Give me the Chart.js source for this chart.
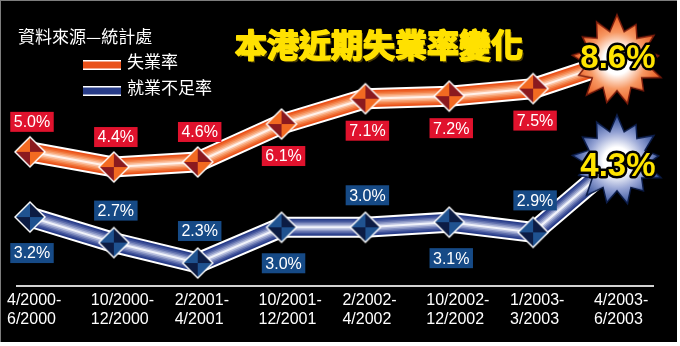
<!DOCTYPE html>
<html>
<head>
<meta charset="utf-8">
<script src="https://cdn.jsdelivr.net/npm/chart.js@4.4.1/dist/chart.umd.min.js"></script>
<style>
  html, body { margin: 0; padding: 0; background: #fff; }
  canvas { display: block; }
</style>
</head>
<body>
<canvas id="jobless" width="680" height="346"></canvas>
<script>
// survey periods
const periods = ['4/2000-6/2000', '10/2000-12/2000', '2/2001-4/2001', '10/2001-12/2001',
                 '2/2002-4/2002', '10/2002-12/2002', '1/2003-3/2003', '4/2003-6/2003'];
// 失業率 (%)
const unemployment = [5.0, 4.4, 4.6, 6.1, 7.1, 7.2, 7.5, 8.6];
// 就業不足率 (%)
const underemployment = [3.2, 2.7, 2.3, 3.0, 3.0, 3.1, 2.9, 4.3];

// which side of the marker each value box goes
const unemploymentSide = ['up', 'up', 'up', 'down', 'down', 'down', 'down'];
const underemploymentSide = ['down', 'up', 'up', 'down', 'up', 'down', 'up'];

const CJK = '"Noto Sans CJK TC", "Noto Sans CJK SC", sans-serif';
const LATIN = '"Liberation Sans", Arial, sans-serif';

// tube look: stacked strokes, outer to inner
const TUBE_WIDTHS = [21, 17, 14, 11, 8, 5, 2];
const orangeStyle = {
  tube: ['#ffffff', '#e9511a', '#ee672c', '#f3834c', '#f7a272', '#fbc4a6', '#fff1e9'],
  light: '#f26a21', dark: '#8b1a1f',
  starEdge: '#ea5a1e', starMid: '#f79863', starLine: '#7a1c0c',
  box: '#e0122d', up: -30, down: 32, bigDy: -2
};
const blueStyle = {
  tube: ['#ffffff', '#283c88', '#3d5099', '#606fac', '#8995c4', '#b8bfde', '#f0f2fa'],
  light: '#1f5290', dark: '#0c1c44',
  starEdge: '#2c4a96', starMid: '#95a3d4', starLine: '#0c1d4a',
  box: '#164a86', up: -32, down: 36, bigDy: 6
};

// faceted diamond marker
function makeDiamond(light, dark) {
  const c = document.createElement('canvas');
  c.width = c.height = 34;
  const g = c.getContext('2d');
  const m = 17, r = 16, ri = 14;
  g.fillStyle = '#ffffff';
  g.beginPath();
  g.moveTo(m, m - r); g.lineTo(m + r, m); g.lineTo(m, m + r); g.lineTo(m - r, m);
  g.closePath(); g.fill();
  const tri = (col, ax, ay, bx, by) => {
    g.fillStyle = col;
    g.beginPath(); g.moveTo(m, m); g.lineTo(ax, ay); g.lineTo(bx, by); g.closePath(); g.fill();
  };
  tri(light, m - ri, m, m, m - ri);
  tri(dark, m, m - ri, m + ri, m);
  tri(dark, m - ri, m, m, m + ri);
  tri(light, m + ri, m, m, m + ri);
  return c;
}

// starburst for the latest reading
function makeStar(edge, mid, line) {
  const c = document.createElement('canvas');
  c.width = c.height = 100;
  const g = c.getContext('2d');
  const m = 50;
  const outer = [46, 41, 45, 42, 47, 40, 44, 43, 46, 41, 45, 42, 44];
  const inner = 30;
  const n = outer.length;
  g.beginPath();
  for (let k = 0; k < n; k++) {
    const a = -Math.PI / 2 + k * 2 * Math.PI / n;
    const b = a + Math.PI / n;
    g.lineTo(m + outer[k] * Math.cos(a), m + outer[k] * Math.sin(a));
    g.lineTo(m + inner * Math.cos(b), m + inner * Math.sin(b));
  }
  g.closePath();
  const grad = g.createRadialGradient(m, m, 0, m, m, 46);
  grad.addColorStop(0, '#ffffff');
  grad.addColorStop(0.3, '#ffffff');
  grad.addColorStop(0.62, mid);
  grad.addColorStop(1, edge);
  g.fillStyle = grad;
  g.fill();
  g.lineWidth = 1.5;
  g.strokeStyle = line;
  g.stroke();
  return c;
}

const toPoints = vals => vals.map((v, i) => ({ x: i, y: v }));

function tubeLayers(vals, axis, style, baseOrder) {
  return style.tube.map((col, k) => ({
    data: toPoints(vals),
    yAxisID: axis,
    borderColor: col,
    borderWidth: TUBE_WIDTHS[k],
    borderJoinStyle: 'miter',
    pointRadius: 0,
    pointHoverRadius: 0,
    fill: false,
    clip: false,
    order: baseOrder + (style.tube.length - k)
  }));
}

function markers(vals, axis, style, order) {
  const diamond = makeDiamond(style.light, style.dark);
  const star = makeStar(style.starEdge, style.starMid, style.starLine);
  return {
    data: toPoints(vals),
    yAxisID: axis,
    showLine: false,
    pointStyle: ctx => ctx.dataIndex === vals.length - 1 ? star : diamond,
    pointRadius: 16,
    pointHoverRadius: 16,
    clip: false,
    order: order
  };
}

const series = [
  { values: unemployment, side: unemploymentSide, style: orangeStyle },
  { values: underemployment, side: underemploymentSide, style: blueStyle }
];

// page backdrop, framed black panel
const backdrop = {
  id: 'backdrop',
  beforeDraw(chart) {
    const ctx = chart.ctx;
    ctx.save();
    ctx.fillStyle = '#ffffff';
    ctx.fillRect(0, 0, chart.width, chart.height);
    ctx.fillStyle = '#000000';
    ctx.fillRect(0, 0, 677, 342);
    ctx.fillStyle = '#7d7d7d';
    ctx.fillRect(0, 0, 677, 1);
    ctx.fillRect(0, 0, 1, 342);
    ctx.restore();
  }
};

// value boxes and the big latest figures
const valueLabels = {
  id: 'valueLabels',
  afterDatasetsDraw(chart) {
    const ctx = chart.ctx;
    ctx.save();
    series.forEach((s, si) => {
      const meta = chart.getDatasetMeta(si);
      const last = s.values.length - 1;
      meta.data.forEach((pt, i) => {
        const txt = s.values[i].toFixed(1) + '%';
        if (i === last) {
          ctx.font = 'bold 33px ' + LATIN;
          ctx.textAlign = 'center';
          ctx.textBaseline = 'middle';
          ctx.lineJoin = 'round';
          ctx.lineWidth = 5;
          ctx.strokeStyle = '#000000';
          ctx.strokeText(txt, pt.x + 1, pt.y + s.style.bigDy);
          ctx.fillStyle = '#ffe400';
          ctx.fillText(txt, pt.x + 1, pt.y + s.style.bigDy);
          return;
        }
        ctx.font = '16px ' + LATIN;
        const w = ctx.measureText(txt).width + 7;
        const h = 20;
        const cx = pt.x + 2;
        const cy = pt.y + (s.side[i] === 'up' ? s.style.up : s.style.down);
        ctx.fillStyle = s.style.box;
        ctx.fillRect(cx - w / 2, cy - h / 2, w, h);
        ctx.fillStyle = '#ffffff';
        ctx.textAlign = 'center';
        ctx.textBaseline = 'middle';
        ctx.fillText(txt, cx, cy + 1);
      });
    });
    ctx.restore();
  }
};

// heading, source note and legend
const headings = {
  id: 'headings',
  afterDraw(chart) {
    const ctx = chart.ctx;
    ctx.save();
    ctx.textBaseline = 'middle';

    ctx.font = '17px ' + CJK;
    ctx.fillStyle = '#ffffff';
    ctx.textAlign = 'left';
    ctx.fillText('資料來源—統計處', 18, 37);

    ctx.font = 'bold 32px ' + CJK;
    ctx.textAlign = 'center';
    ctx.lineJoin = 'round';
    ctx.lineWidth = 1.8;
    ctx.strokeStyle = '#ffe100';
    ctx.fillStyle = '#ffe100';
    ctx.shadowColor = '#4a3b00';
    ctx.shadowOffsetX = 2;
    ctx.shadowOffsetY = 2;
    ctx.fillText('本港近期失業率變化', 379, 45);
    ctx.shadowColor = 'transparent';
    ctx.strokeText('本港近期失業率變化', 379, 45);

    const items = [
      { label: '失業率', col: orangeStyle.tube[1], y: 65 },
      { label: '就業不足率', col: blueStyle.tube[1], y: 91 }
    ];
    items.forEach(it => {
      ctx.fillStyle = '#ffffff';
      ctx.fillRect(83, it.y - 5, 38, 10);
      ctx.fillStyle = it.col;
      ctx.fillRect(83, it.y - 3.5, 38, 7);
      ctx.font = '17px ' + CJK;
      ctx.textAlign = 'left';
      ctx.fillStyle = '#ffffff';
      ctx.fillText(it.label, 127, it.y - 3);
    });
    ctx.restore();
  }
};

new Chart(document.getElementById('jobless'), {
  type: 'line',
  data: {
    datasets: [
      markers(unemployment, 'yO', orangeStyle, 1),
      markers(underemployment, 'yB', blueStyle, 0),
      ...tubeLayers(unemployment, 'yO', orangeStyle, 1),
      ...tubeLayers(underemployment, 'yB', blueStyle, 8)
    ]
  },
  options: {
    responsive: false,
    animation: false,
    devicePixelRatio: 1,
    layout: { autoPadding: false, padding: { left: 17, right: 27, top: 0, bottom: 0 } },
    plugins: {
      legend: { display: false },
      tooltip: { enabled: false },
      title: { display: false }
    },
    scales: {
      x: {
        type: 'linear',
        min: -0.155,
        max: 7.43,
        afterBuildTicks: scale => { scale.ticks = periods.map((p, i) => ({ value: i })); },
        afterFit: scale => {
          scale.height = 60;
          scale.paddingLeft = 0;
          scale.paddingRight = 0;
        },
        grid: { color: 'transparent', drawTicks: false },
        border: { color: '#d2d2d2', width: 2 },
        ticks: {
          autoSkip: false,
          maxRotation: 0,
          align: 'start',
          padding: 5,
          labelOffset: ctx => ctx.index === 0 ? -12 : -23,
          color: '#ffffff',
          font: { family: LATIN, size: 16 },
          callback: value => {
            const parts = periods[value].split('-');
            return [parts[0] + '-', parts[1]];
          }
        }
      },
      yO: { type: 'linear', display: false, min: -0.3, max: 11 },
      yB: { type: 'linear', display: false, min: 1.85, max: 7.45 }
    }
  },
  plugins: [backdrop, valueLabels, headings]
});
</script>
</body>
</html>
